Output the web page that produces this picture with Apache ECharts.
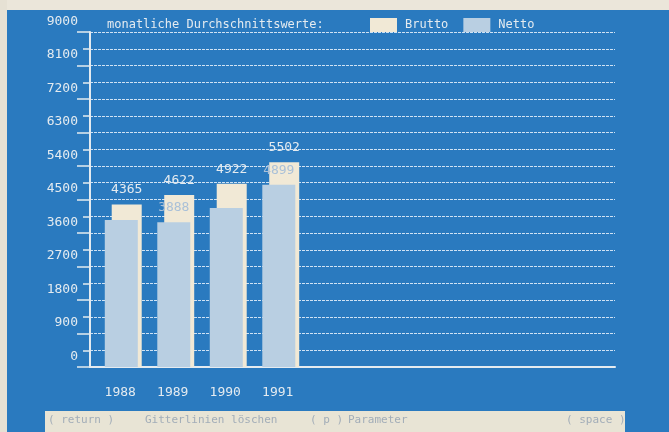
<!DOCTYPE html>
<html>
<head>
<meta charset="utf-8">
<script src="https://cdn.jsdelivr.net/npm/echarts@6/dist/echarts.min.js"></script>
<style>html,body{margin:0;padding:0;background:#2a7abf;}#c{width:669px;height:432px;}</style>
</head>
<body>
<div id="c"></div>
<script>
// ---- data ----
const years = ['1988', '1989', '1990', '1991'];
const brutto = [4365, 4622, 4922, 5502];
const netto = [3950, 3888, 4270, 4899];
const nettoLabelShown = [false, true, false, true];
const seriesNames = ['Brutto', 'Netto'];
const titleText = 'monatliche Durchschnittswerte:';
const menuItems = ['( return )', 'Gitterlinien löschen', '( p )', 'Parameter', '( space )'];
const yMin = 0, yMax = 9000, yStep = 900;
const slotCount = 10;

// ---- build ----
const categories = years.concat(new Array(slotCount - years.length).fill(''));
const FONT = 'DejaVu Sans Mono';
const LIGHT = '#e4ebf0';
const GRID = '#cfe2f4';
const BG = '#2a7abf';
const MENU = '#a2adb8';

const chart = echarts.init(document.getElementById('c'));
chart.setOption({
  backgroundColor: BG,
  animation: false,
  textStyle: { fontFamily: FONT },
  graphic: [
    { type: 'rect', shape: { x: 0, y: 0, width: 669, height: 10 }, style: { fill: '#ebe6da' }, silent: true },
    { type: 'rect', shape: { x: 0, y: 0, width: 7, height: 432 }, style: { fill: '#e6e1d4' }, silent: true },
    { type: 'text', left: 107, top: 19, style: { text: titleText, fill: LIGHT, font: '12px "' + FONT + '"' } },
    { type: 'rect', shape: { x: 45, y: 411, width: 580, height: 21 }, style: { fill: '#e8e4d5' }, silent: true },
    { type: 'text', left: 48, top: 415, style: { text: menuItems[0], fill: MENU, font: '11px "' + FONT + '"' } },
    { type: 'text', left: 145, top: 415, style: { text: menuItems[1], fill: MENU, font: '11px "' + FONT + '"' } },
    { type: 'text', left: 310, top: 415, style: { text: menuItems[2], fill: MENU, font: '11px "' + FONT + '"' } },
    { type: 'text', left: 348, top: 415, style: { text: menuItems[3], fill: MENU, font: '11px "' + FONT + '"' } },
    { type: 'text', left: 566, top: 415, style: { text: menuItems[4], fill: MENU, font: '11px "' + FONT + '"' } }
  ],
  legend: {
    data: seriesNames,
    left: 370, top: 18, padding: 0,
    icon: 'rect',
    itemWidth: 27, itemHeight: 14, itemGap: 15,
    textStyle: { color: LIGHT, fontFamily: FONT, fontSize: 12, padding: [0, 0, 0, 3] }
  },
  grid: [
    { left: 90, right: 54, top: 32, bottom: 65 },
    { left: 97, right: 47, top: 32, bottom: 65 }
  ],
  xAxis: [
    {
      type: 'category', gridIndex: 0, data: categories,
      axisLine: { show: true, lineStyle: { color: LIGHT, width: 2 } },
      axisTick: { show: false },
      axisLabel: { color: LIGHT, fontFamily: FONT, fontSize: 13, margin: 19, padding: [0, 0, 0, 8], interval: 0 },
      splitLine: { show: false }
    },
    { type: 'category', gridIndex: 1, data: categories, show: false }
  ],
  yAxis: [
    {
      type: 'value', gridIndex: 0, min: yMin, max: yMax, interval: yStep,
      axisLine: { show: true, lineStyle: { color: LIGHT, width: 2 } },
      axisTick: { show: true, length: 13, lineStyle: { color: LIGHT, width: 1.5 } },
      minorTick: { show: true, splitNumber: 2, length: 7, lineStyle: { color: LIGHT, width: 1.5 } },
      axisLabel: {
        color: LIGHT, fontFamily: FONT, fontSize: 13, margin: 12,
        verticalAlign: 'bottom', padding: [0, 0, 4, 0],
        formatter: v => String(v)
      },
      splitLine: { show: true, lineStyle: { color: GRID, width: 1, type: [3, 1] } },
      minorSplitLine: { show: true, lineStyle: { color: GRID, width: 1, type: [3, 1] } }
    },
    { type: 'value', gridIndex: 1, min: yMin, max: yMax, interval: yStep, show: false, splitLine: { show: false } }
  ],
  series: [
    {
      name: seriesNames[1], type: 'bar', xAxisIndex: 1, yAxisIndex: 1,
      z: 3, barWidth: 33, barGap: '-79%',
      itemStyle: { color: '#b9cfe2' },
      data: netto.map((v, i) => ({ value: v, label: { show: nettoLabelShown[i] } })),
      label: { position: 'top', distance: 8, color: '#a9c0d8', fontFamily: FONT, fontSize: 13, formatter: '{c}' }
    },
    {
      name: seriesNames[0], type: 'bar', xAxisIndex: 1, yAxisIndex: 1,
      z: 2, barWidth: 30, barGap: '-79%',
      itemStyle: { color: '#f1e9d6' },
      data: brutto,
      label: { show: true, position: 'top', distance: 8, color: LIGHT, fontFamily: FONT, fontSize: 13, formatter: '{c}' }
    }
  ]
});
</script>
</body>
</html>
